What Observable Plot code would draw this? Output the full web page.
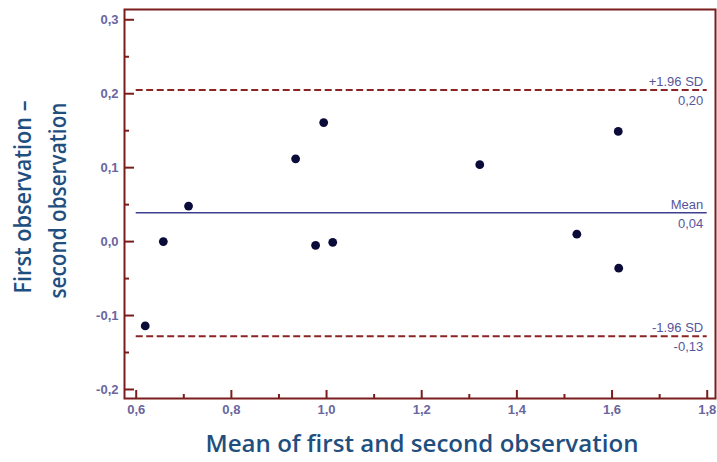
<!DOCTYPE html>
<html><head><meta charset="utf-8">
<script src="https://cdn.jsdelivr.net/npm/d3@7"></script>
<script src="https://cdn.jsdelivr.net/npm/@observablehq/plot@0.6"></script>
<style>body{margin:0;background:#fff;} #chart svg{display:block;background:#fff;}</style>
</head><body><div id="chart"></div>
<script>
// Bland–Altman data
const meanObs = [0.619, 0.657, 0.710, 0.935, 0.994, 0.977, 1.013, 1.322, 1.613, 1.526, 1.614];
const diffObs = [-0.114, 0.000, 0.048, 0.112, 0.161, -0.005, -0.001, 0.104, 0.149, 0.010, -0.036];
const refNames = ["+1.96 SD", "Mean", "-1.96 SD"];
const refValues = [0.205, 0.039, -0.128];
const refLabels = ["0,20", "0,04", "-0,13"];
const refDashed = [true, false, true];
const xTicks = [0.6, 0.8, 1.0, 1.2, 1.4, 1.6, 1.8];
const xMinorTicks = [0.7, 0.9, 1.1, 1.3, 1.5, 1.7];
const yTicks = [-0.2, -0.1, 0.0, 0.1, 0.2, 0.3];
const yMinorTicks = [-0.15, -0.05, 0.05, 0.15, 0.25];
const xDomain = [0.5754, 1.8174];
const yDomain = [-0.2122, 0.3139];
const xTitle = "Mean of first and second observation";
const yTitle = ["First observation –", "second observation"];

const points = meanObs.map((m, i) => ({m, d: diffObs[i]}));
const refs = refNames.map((n, i) => ({name: n, v: refValues[i], label: refLabels[i], dashed: refDashed[i]}));

const frameColor = "#7b1d1d";
const tickLabelColor = "#6a66a0";
const annColor = "#56559c";
const titleColor = "#1f4f7f";
const fmt = d => d.toFixed(1).replace(".", ",");

const chart = Plot.plot({
  width: 717, height: 462,
  marginLeft: 124, marginRight: 2, marginTop: 9, marginBottom: 64,
  style: {background: "#fff", fontFamily: "'Liberation Sans', Arial, sans-serif"},
  x: {domain: xDomain, axis: null},
  y: {domain: yDomain, axis: null},
  marks: [
    Plot.ruleY(refs.filter(r => r.dashed), {y: "v", x1: xTicks[0], x2: xTicks[xTicks.length - 1], stroke: "#8b2525", strokeWidth: 2, strokeDasharray: "7,3.5"}),
    Plot.ruleY(refs.filter(r => !r.dashed), {y: "v", x1: xTicks[0], x2: xTicks[xTicks.length - 1], stroke: "#3f3f90", strokeWidth: 1.6}),
    Plot.dot(points, {x: "m", y: "d", r: 4.4, fill: "#0b0b3a", stroke: "none"}),
    Plot.text(refs, {x: () => xTicks[xTicks.length - 1], y: "v", text: "name", textAnchor: "end", dx: -4, dy: -8, lineAnchor: "middle", fill: annColor, fontSize: 13}),
    Plot.text(refs, {x: () => xTicks[xTicks.length - 1], y: "v", text: "label", textAnchor: "end", dx: -4, dy: 11, lineAnchor: "middle", fill: annColor, fontSize: 13}),
    // ticks pointing inward
    Plot.axisX({ticks: xTicks, anchor: "bottom", tickSize: -8, tickFormat: () => "", stroke: frameColor, strokeWidth: 2, label: null}),
    Plot.axisX({ticks: xMinorTicks, anchor: "bottom", tickSize: -4, tickFormat: () => "", stroke: frameColor, strokeWidth: 2, label: null}),
    Plot.axisY({ticks: yTicks, anchor: "left", tickSize: -10, tickFormat: () => "", stroke: frameColor, strokeWidth: 2, label: null}),
    Plot.axisY({ticks: yMinorTicks, anchor: "left", tickSize: -5, tickFormat: () => "", stroke: frameColor, strokeWidth: 2, label: null}),
    // tick labels
    Plot.axisX({ticks: xTicks, anchor: "bottom", tickSize: 0, tickPadding: 6, tickFormat: fmt, fill: tickLabelColor, fontSize: 13, fontWeight: "bold", label: null}),
    Plot.axisY({ticks: yTicks, anchor: "left", tickSize: 0, tickPadding: 6, tickFormat: fmt, fill: tickLabelColor, fontSize: 13, fontWeight: "bold", label: null}),
    Plot.frame({stroke: frameColor, strokeWidth: 2}),
    // axis titles
    Plot.text([xTitle], {frameAnchor: "bottom", text: d => d, textAnchor: "middle", lineAnchor: "bottom", dx: 2, dy: 53, fill: titleColor, fontSize: 23, fontWeight: 600, fontFamily: "'Open Sans', sans-serif"}),
    Plot.text([yTitle[0]], {frameAnchor: "left", text: d => d, rotate: -90, textAnchor: "middle", lineAnchor: "bottom", dx: -94, dy: -7, fill: titleColor, fontSize: 23, fontWeight: 600, fontFamily: "'Open Sans', sans-serif"}),
    Plot.text([yTitle[1]], {frameAnchor: "left", text: d => d, rotate: -90, textAnchor: "middle", lineAnchor: "bottom", dx: -59, dy: -3.5, fill: titleColor, fontSize: 23, fontWeight: 600, fontFamily: "'Open Sans', sans-serif"})
  ]
});
const svg = d3.select(chart);
const fit = (str, len) => svg.selectAll("text").filter(function() { return this.textContent === str; })
  .attr("textLength", len).attr("lengthAdjust", "spacingAndGlyphs");
fit(xTitle, 433);
fit(yTitle[0], 193);
fit(yTitle[1], 196);
document.getElementById("chart").appendChild(chart);
</script>
</body></html>
